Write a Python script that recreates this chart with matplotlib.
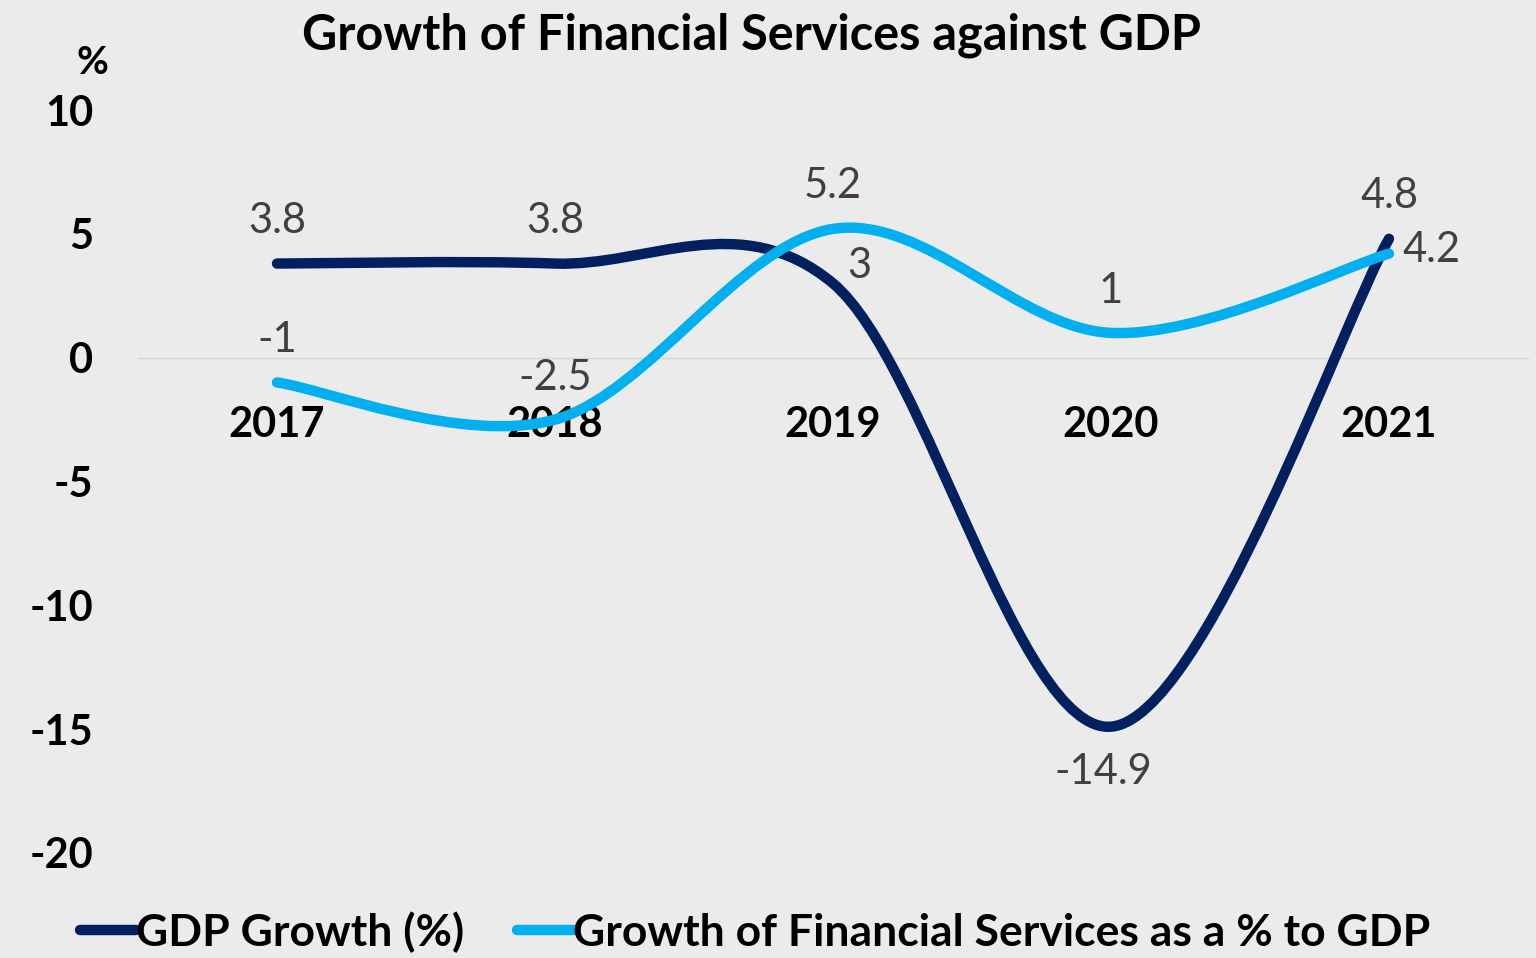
import matplotlib
matplotlib.use('Agg')
import matplotlib.pyplot as plt
from matplotlib.path import Path
from matplotlib.patches import PathPatch
from matplotlib.lines import Line2D

# Data
years = ['2017', '2018', '2019', '2020', '2021']
gdp_growth = [3.8, 3.8, 3, -14.9, 4.8]
fin_services = [-1, -2.5, 5.2, 1, 4.2]
y_ticks = [10, 5, 0, -5, -10, -15, -20]

NAVY = '#002060'
SKY = '#00B0F0'
LABEL_GREY = '#404040'
BG = '#ebebeb'
LW = 7.5

plt.rcParams['font.family'] = ['Lato', 'DejaVu Sans']


def smooth_path(xs, ys):
    """Bezier path through the points, like a spreadsheet 'smoothed line'."""
    pts = list(zip(xs, ys))
    verts = [pts[0]]
    codes = [Path.MOVETO]
    n = len(pts)
    for i in range(n - 1):
        p0 = pts[i - 1] if i > 0 else pts[i]
        p1 = pts[i]
        p2 = pts[i + 1]
        p3 = pts[i + 2] if i + 2 < n else pts[i + 1]
        c1 = (p1[0] + (p2[0] - p0[0]) / 6, p1[1] + (p2[1] - p0[1]) / 6)
        c2 = (p2[0] - (p3[0] - p1[0]) / 6, p2[1] - (p3[1] - p1[1]) / 6)
        verts += [c1, c2, p2]
        codes += [Path.CURVE4] * 3
    return Path(verts, codes)


fig = plt.figure(figsize=(15.36, 9.58), dpi=100, facecolor=BG)
ax = fig.add_axes([138 / 1536, 105 / 958, 1390 / 1536, 743 / 958])
ax.set_facecolor('none')

xs = [i + 0.5 for i in range(len(years))]
for vals, col in [(gdp_growth, NAVY), (fin_services, SKY)]:
    patch = PathPatch(smooth_path(xs, vals), fill=False, edgecolor=col,
                      linewidth=LW, capstyle='round', joinstyle='round', zorder=3)
    ax.add_patch(patch)

ax.set_xlim(0, 5)
ax.set_ylim(-20, 10)
ax.set_yticks(y_ticks)
ax.set_yticklabels([str(v) for v in y_ticks])
ax.set_xticks(xs)
ax.set_xticklabels(years)

for s in ['top', 'right', 'left']:
    ax.spines[s].set_visible(False)
ax.spines['bottom'].set_position(('data', 0))
ax.spines['bottom'].set_color('#d6d6d6')
ax.spines['bottom'].set_linewidth(1)
ax.tick_params(axis='both', length=0)
ax.tick_params(axis='y', pad=32)
ax.tick_params(axis='x', pad=35)
for lab in ax.get_yticklabels() + ax.get_xticklabels():
    lab.set_fontsize(30)
    lab.set_fontweight('bold')
    lab.set_color('black')

# Value labels (offsets in pixels, horizontal alignment)
gdp_offsets = [(0, 43, 'center'), (0, 43, 'center'), (26, 17, 'center'),
               (-8, -45, 'center'), (0, 43, 'center')]
fin_offsets = [(0, 42, 'center'), (0, 42, 'center'), (0, 43, 'center'),
               (0, 42, 'center'), (13, 4, 'left')]
for vals, offs in [(gdp_growth, gdp_offsets), (fin_services, fin_offsets)]:
    for i, (v, (dx, dy, ha)) in enumerate(zip(vals, offs)):
        ax.annotate(f'{v:g}', (xs[i], v), xytext=(dx, dy), textcoords='offset pixels',
                    ha=ha, va='center', fontsize=30, color=LABEL_GREY, zorder=4)

fig.text(752 / 1536, 1 - 35 / 958, 'Growth of Financial Services against GDP',
         ha='center', va='center', fontsize=35, fontweight='bold')
fig.text(92 / 1536, 1 - 62 / 958, '%', ha='center', va='center',
         fontsize=28, fontweight='bold')

handles = [Line2D([], [], color=NAVY, linewidth=LW, solid_capstyle='round'),
           Line2D([], [], color=SKY, linewidth=LW, solid_capstyle='round')]
fig.legend(handles, ['GDP Growth (%)', 'Growth of Financial Services as a % to GDP'],
           loc='center', bbox_to_anchor=(755 / 1536, 1 - 932 / 958), ncol=2,
           frameon=False, handlelength=1.25, handletextpad=0.0, columnspacing=1.2,
           prop={'weight': 'bold', 'size': 32})

fig.savefig('out.png', dpi=100, facecolor=BG)
